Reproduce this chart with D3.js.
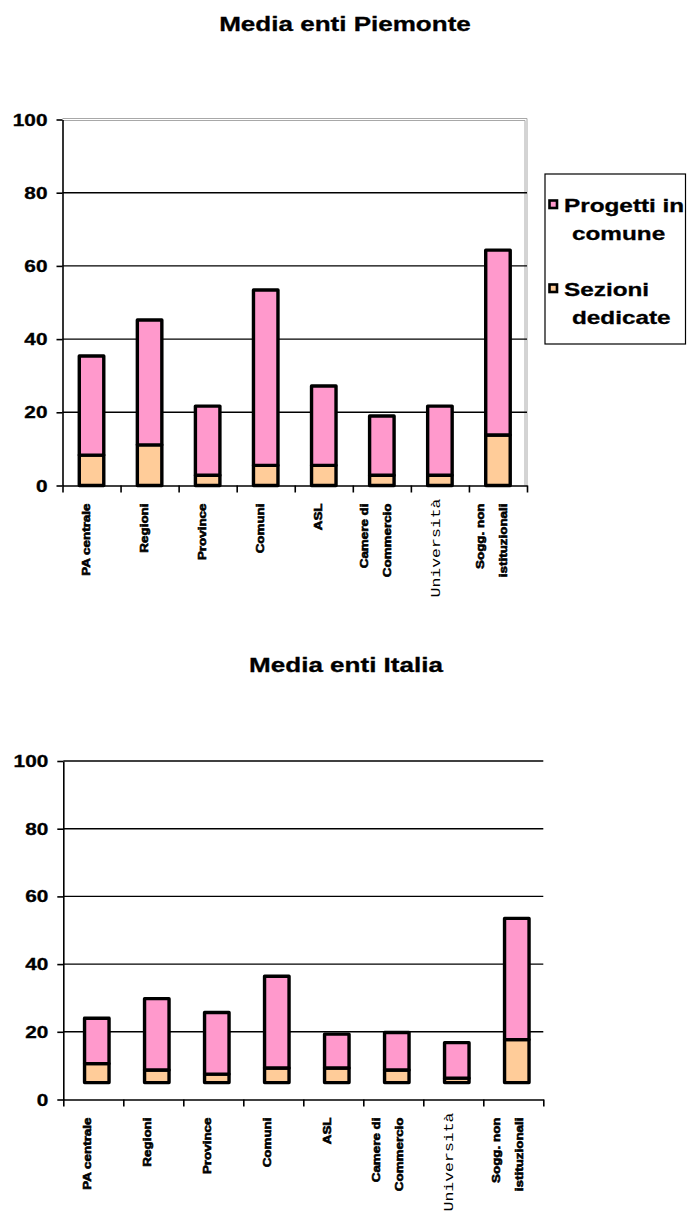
<!DOCTYPE html>
<html>
<head>
<meta charset="utf-8">
<script src="https://cdn.jsdelivr.net/npm/d3@7"></script>
<style>
  body { margin: 0; background: #fff; }
  text { font-family: Arial, "Liberation Sans", sans-serif; }
</style>
</head>
<body>
<svg id="chart" width="688" height="1216"></svg>
<script>
// Categories and their wrapped tick labels
const categories = ["PA centrale", "Regioni", "Province", "Comuni", "ASL",
  "Camere di Commercio", "Università", "Sogg. non istituzionali"];
const categoryLines = [["PA centrale"], ["Regioni"], ["Province"], ["Comuni"], ["ASL"],
  ["Camere di", "Commercio"], ["Università"], ["Sogg. non", "istituzionali"]];
const seriesNames = ["Progetti in comune", "Sezioni dedicate"];
const legendLines = [["Progetti in", "comune"], ["Sezioni", "dedicate"]];
const yTicks = [0, 20, 40, 60, 80, 100];

// Media enti Piemonte
const piemonteBase = [0, 0, 0, 0, 0, 0, 0, 0];
const piemonteSezioni = [8.3, 11.1, 2.8, 5.5, 5.5, 2.8, 2.8, 13.8];
const piemonteProgetti = [27.1, 34.1, 18.9, 47.9, 21.7, 16.2, 18.9, 50.5];

// Media enti Italia (bars start from an offset of 5)
const italiaBase = [5, 5, 5, 5, 5, 5, 5, 5];
const italiaSezioni = [5.6, 3.7, 2.5, 4.3, 4.3, 3.7, 1.3, 12.7];
const italiaProgetti = [13.4, 21.1, 18.2, 27.1, 10.0, 11.1, 10.5, 35.8];

const colors = { progetti: "#FF99CC", sezioni: "#FFCC99" };
const SX = 1.3; // horizontal stretch of the chart lettering

const svg = d3.select("#chart");

function drawChart(cfg) {
  const g = svg.append("g");
  const n = categories.length;

  const y = d3.scaleLinear().domain([0, 100]).range([cfg.bottom, cfg.top]);
  const x = d3.scaleBand().domain(categories).range([cfg.left, cfg.right]).paddingInner(0).paddingOuter(0);
  const edges = d3.scaleLinear().domain([0, n]).range([cfg.left, cfg.right]);

  // title
  g.append("text")
    .attr("transform", `translate(${cfg.titleX},${cfg.titleY}) scale(1.27,1)`)
    .attr("text-anchor", "middle")
    .attr("font-size", 20.5).attr("font-weight", "bold")
    .attr("stroke", "#000").attr("stroke-width", 0.3)
    .text(cfg.title);

  // plot-area frame
  if (cfg.frame) {
    [0, 2].forEach(o => {
      g.append("path")
        .attr("d", `M${cfg.left},${cfg.top - 1 + o}H${cfg.right - o}V${cfg.bottom}`)
        .attr("fill", "none").attr("stroke", "#a8a8a8").attr("stroke-width", 1);
    });
  }

  // horizontal gridlines
  g.append("g").selectAll("line")
    .data(yTicks.filter(t => t > 0 && (cfg.frame ? t < 100 : true)))
    .join("line")
    .attr("x1", cfg.left).attr("x2", cfg.right)
    .attr("y1", d => y(d)).attr("y2", d => y(d))
    .attr("stroke", "#000").attr("stroke-width", 1.4);

  // stacked bars
  const rows = categories.map((c, i) => ({
    cat: c, base: cfg.base[i], sezioni: cfg.sezioni[i], progetti: cfg.progetti[i]
  }));
  const stack = d3.stack().keys(["base", "sezioni", "progetti"])(rows);
  const barW = 24.5;
  stack.slice(1).forEach(layer => {
    g.append("g").selectAll("rect")
      .data(layer)
      .join("rect")
      .attr("x", d => x(d.data.cat) + x.bandwidth() / 2 - barW / 2 + cfg.barShift)
      .attr("width", barW)
      .attr("y", d => y(d[1]))
      .attr("height", d => y(d[0]) - y(d[1]))
      .attr("fill", colors[layer.key])
      .attr("stroke", "#000").attr("stroke-width", 3.4)
      .attr("stroke-linejoin", "round");
  });

  // y axis
  const yAxis = g.append("g")
    .attr("transform", `translate(${cfg.left},0)`)
    .call(d3.axisLeft(y).tickValues(yTicks).tickSize(6).tickSizeOuter(0).tickFormat(""));
  yAxis.selectAll("line, path").attr("stroke", "#000").attr("stroke-width", 1.6);

  g.append("g").selectAll("text")
    .data(yTicks)
    .join("text")
    .attr("transform", d => `translate(${cfg.left - 15},${y(d) + 6}) scale(${SX},1)`)
    .attr("text-anchor", "end")
    .attr("font-size", 16).attr("font-weight", "bold")
    .attr("stroke", "#000").attr("stroke-width", 0.3)
    .text(d => d);

  // x axis with ticks at category boundaries
  const xAxis = g.append("g")
    .attr("transform", `translate(0,${cfg.bottom})`)
    .call(d3.axisBottom(edges).tickValues(d3.range(n + 1)).tickSize(7).tickSizeOuter(0).tickFormat(""));
  xAxis.selectAll("line, path").attr("stroke", "#000").attr("stroke-width", 1.6);

  // rotated category labels
  categoryLines.forEach((lines, i) => {
    const cx = x(categories[i]) + x.bandwidth() / 2;
    const mono = categories[i] === "Università";
    const offsets = lines.length === 1 ? [mono ? 0 : -2] : [-13.5, 9.5];
    lines.forEach((line, j) => {
      const t = g.append("text")
        .attr("transform", `translate(${cx + offsets[j]},${cfg.bottom + (mono ? 13 : 18)}) rotate(-90) scale(${mono ? 1.27 : 1.22},1)`)
        .attr("text-anchor", "end")
        .attr("font-size", mono ? 13 : 11)
        .attr("font-weight", mono ? "normal" : "bold")
        .style("font-family", mono ? "'Liberation Mono', 'DejaVu Sans Mono', monospace" : null)
        .text(line);
      if (!mono) t.attr("stroke", "#000").attr("stroke-width", 0.6);
    });
  });
}

drawChart({
  title: "Media enti Piemonte", titleX: 345, titleY: 30.5,
  top: 119.5, bottom: 485.5, left: 62.5, right: 527,
  base: piemonteBase, sezioni: piemonteSezioni, progetti: piemonteProgetti,
  frame: true, barShift: 0
});

drawChart({
  title: "Media enti Italia", titleX: 346, titleY: 671.5,
  top: 761, bottom: 1099.5, left: 63.3, right: 543.3,
  base: italiaBase, sezioni: italiaSezioni, progetti: italiaProgetti,
  frame: false, barShift: 3.5
});

// legend for the upper chart
const legend = svg.append("g");
legend.append("rect")
  .attr("x", 545).attr("y", 174).attr("width", 140.5).attr("height", 170)
  .attr("fill", "#fff").attr("stroke", "#000").attr("stroke-width", 1.2);
const legendKeys = ["progetti", "sezioni"];
legendKeys.forEach((k, i) => {
  const cy = 205 + i * 84;
  legend.append("rect")
    .attr("x", 549.5).attr("y", cy - 4.5).attr("width", 7.5).attr("height", 7.5)
    .attr("fill", colors[k]).attr("stroke", "#000").attr("stroke-width", 2.6);
  legendLines[i].forEach((line, j) => {
    legend.append("text")
      .attr("transform", `translate(${j === 0 ? 564 : 572},${cy + 6.5 + j * 28}) scale(1.28,1)`)
      .attr("font-size", 19).attr("font-weight", "bold")
      .attr("stroke", "#000").attr("stroke-width", 0.3)
      .text(line);
  });
});
</script>
</body>
</html>
